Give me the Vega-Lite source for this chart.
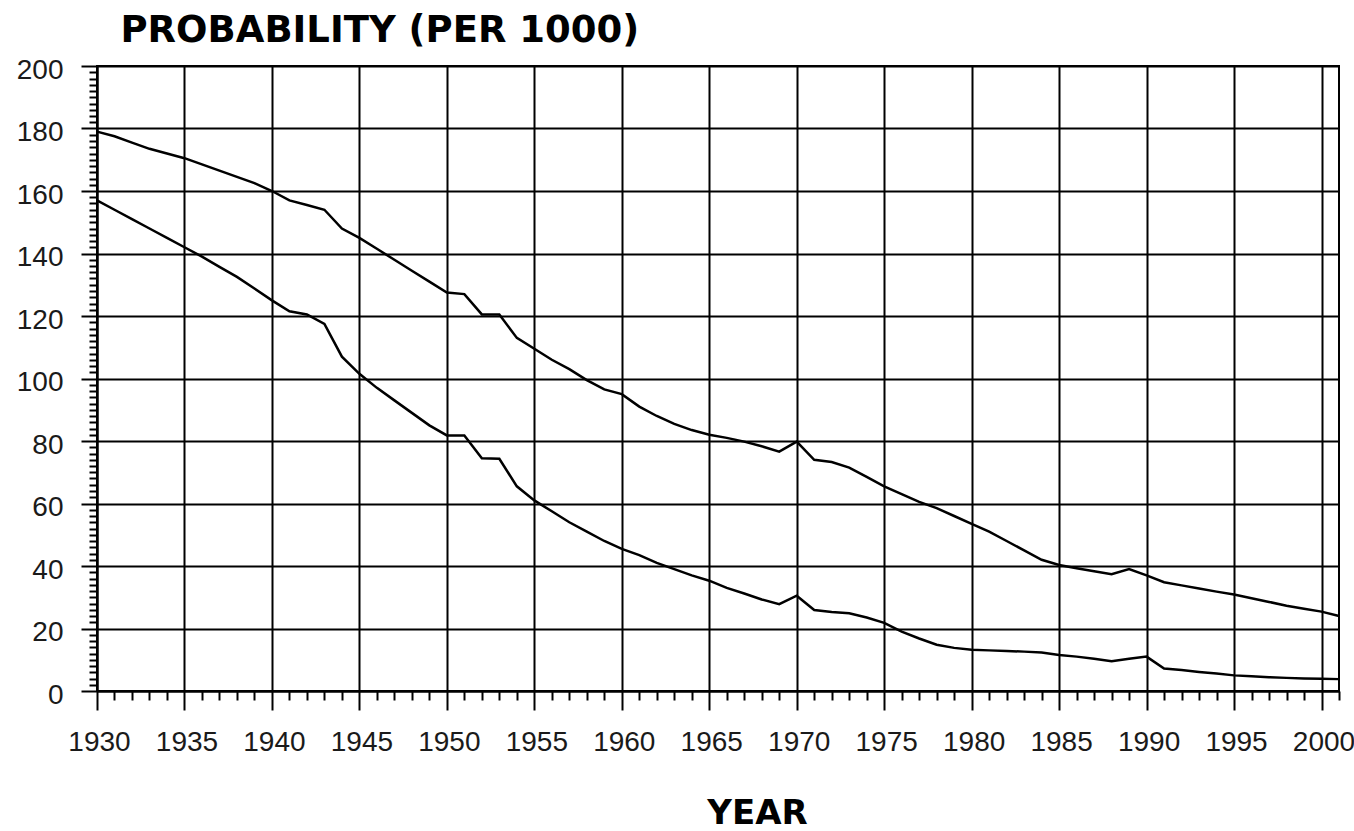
{
  "$schema": "https://vega.github.io/schema/vega-lite/v6.json",
  "width": 1242,
  "height": 625,
  "autosize": "none",
  "padding": {"left": 97, "top": 66, "right": 15, "bottom": 140},
  "background": "white",
  "config": {"view": {"stroke": "black", "strokeWidth": 2}},
  "data": {"values": [
    {"year":1930,"series":"A","value":179},{"year":1931,"series":"A","value":177.5},{"year":1932,"series":"A","value":175.5},{"year":1933,"series":"A","value":173.5},{"year":1934,"series":"A","value":172},{"year":1935,"series":"A","value":170.5},{"year":1936,"series":"A","value":168.5},{"year":1937,"series":"A","value":166.5},{"year":1938,"series":"A","value":164.5},{"year":1939,"series":"A","value":162.5},
    {"year":1940,"series":"A","value":160},{"year":1941,"series":"A","value":157},{"year":1942,"series":"A","value":155.5},{"year":1943,"series":"A","value":154},{"year":1944,"series":"A","value":148},{"year":1945,"series":"A","value":145},{"year":1946,"series":"A","value":141.5},{"year":1947,"series":"A","value":138},{"year":1948,"series":"A","value":134.5},{"year":1949,"series":"A","value":131},
    {"year":1950,"series":"A","value":127.5},{"year":1951,"series":"A","value":127},{"year":1952,"series":"A","value":120.5},{"year":1953,"series":"A","value":120.5},{"year":1954,"series":"A","value":113},{"year":1955,"series":"A","value":109.5},{"year":1956,"series":"A","value":106},{"year":1957,"series":"A","value":103},{"year":1958,"series":"A","value":99.5},{"year":1959,"series":"A","value":96.5},
    {"year":1960,"series":"A","value":95},{"year":1961,"series":"A","value":91},{"year":1962,"series":"A","value":88},{"year":1963,"series":"A","value":85.5},{"year":1964,"series":"A","value":83.5},{"year":1965,"series":"A","value":82},{"year":1966,"series":"A","value":81},{"year":1967,"series":"A","value":79.8},{"year":1968,"series":"A","value":78.3},{"year":1969,"series":"A","value":76.6},
    {"year":1970,"series":"A","value":79.8},{"year":1971,"series":"A","value":74},{"year":1972,"series":"A","value":73.3},{"year":1973,"series":"A","value":71.5},{"year":1974,"series":"A","value":68.5},{"year":1975,"series":"A","value":65.5},{"year":1976,"series":"A","value":63},{"year":1977,"series":"A","value":60.5},{"year":1978,"series":"A","value":58.5},{"year":1979,"series":"A","value":56},
    {"year":1980,"series":"A","value":53.5},{"year":1981,"series":"A","value":51},{"year":1982,"series":"A","value":48},{"year":1983,"series":"A","value":45},{"year":1984,"series":"A","value":42},{"year":1985,"series":"A","value":40.3},{"year":1986,"series":"A","value":39.3},{"year":1987,"series":"A","value":38.3},{"year":1988,"series":"A","value":37.4},{"year":1989,"series":"A","value":39},
    {"year":1990,"series":"A","value":37},{"year":1991,"series":"A","value":34.8},{"year":1992,"series":"A","value":33.8},{"year":1993,"series":"A","value":32.8},{"year":1994,"series":"A","value":31.8},{"year":1995,"series":"A","value":30.9},{"year":1996,"series":"A","value":29.7},{"year":1997,"series":"A","value":28.5},{"year":1998,"series":"A","value":27.3},{"year":1999,"series":"A","value":26.3},
    {"year":2000,"series":"A","value":25.4},{"year":2001,"series":"A","value":24},
    {"year":1930,"series":"B","value":157},{"year":1931,"series":"B","value":154},{"year":1932,"series":"B","value":151},{"year":1933,"series":"B","value":148},{"year":1934,"series":"B","value":145},{"year":1935,"series":"B","value":142},{"year":1936,"series":"B","value":139},{"year":1937,"series":"B","value":135.7},{"year":1938,"series":"B","value":132.5},{"year":1939,"series":"B","value":128.8},
    {"year":1940,"series":"B","value":125},{"year":1941,"series":"B","value":121.5},{"year":1942,"series":"B","value":120.5},{"year":1943,"series":"B","value":117.5},{"year":1944,"series":"B","value":107},{"year":1945,"series":"B","value":101.5},{"year":1946,"series":"B","value":97},{"year":1947,"series":"B","value":93},{"year":1948,"series":"B","value":89},{"year":1949,"series":"B","value":85},
    {"year":1950,"series":"B","value":81.8},{"year":1951,"series":"B","value":81.8},{"year":1952,"series":"B","value":74.5},{"year":1953,"series":"B","value":74.3},{"year":1954,"series":"B","value":65.5},{"year":1955,"series":"B","value":61},{"year":1956,"series":"B","value":57.5},{"year":1957,"series":"B","value":54},{"year":1958,"series":"B","value":51},{"year":1959,"series":"B","value":48},
    {"year":1960,"series":"B","value":45.5},{"year":1961,"series":"B","value":43.5},{"year":1962,"series":"B","value":41},{"year":1963,"series":"B","value":39},{"year":1964,"series":"B","value":37},{"year":1965,"series":"B","value":35.3},{"year":1966,"series":"B","value":33},{"year":1967,"series":"B","value":31.2},{"year":1968,"series":"B","value":29.3},{"year":1969,"series":"B","value":27.8},
    {"year":1970,"series":"B","value":30.5},{"year":1971,"series":"B","value":25.9},{"year":1972,"series":"B","value":25.3},{"year":1973,"series":"B","value":24.9},{"year":1974,"series":"B","value":23.5},{"year":1975,"series":"B","value":21.8},{"year":1976,"series":"B","value":19},{"year":1977,"series":"B","value":16.8},{"year":1978,"series":"B","value":14.8},{"year":1979,"series":"B","value":13.8},
    {"year":1980,"series":"B","value":13.2},{"year":1981,"series":"B","value":13},{"year":1982,"series":"B","value":12.8},{"year":1983,"series":"B","value":12.6},{"year":1984,"series":"B","value":12.3},{"year":1985,"series":"B","value":11.5},{"year":1986,"series":"B","value":11},{"year":1987,"series":"B","value":10.3},{"year":1988,"series":"B","value":9.5},{"year":1989,"series":"B","value":10.3},
    {"year":1990,"series":"B","value":11},{"year":1991,"series":"B","value":7.2},{"year":1992,"series":"B","value":6.7},{"year":1993,"series":"B","value":6.1},{"year":1994,"series":"B","value":5.6},{"year":1995,"series":"B","value":5},{"year":1996,"series":"B","value":4.7},{"year":1997,"series":"B","value":4.4},{"year":1998,"series":"B","value":4.2},{"year":1999,"series":"B","value":4},
    {"year":2000,"series":"B","value":3.9},{"year":2001,"series":"B","value":3.8}
  ]},
  "layer": [
    {
      "mark": {"type": "line", "color": "black", "strokeOpacity": 0},
      "encoding": {
        "x": {"field": "year", "type": "quantitative",
          "scale": {"domain": [1930, 2001], "nice": false, "zero": false},
          "axis": {"orient": "bottom", "values": [1931,1932,1933,1934,1936,1937,1938,1939,1941,1942,1943,1944,1946,1947,1948,1949,1951,1952,1953,1954,1956,1957,1958,1959,1961,1962,1963,1964,1966,1967,1968,1969,1971,1972,1973,1974,1976,1977,1978,1979,1981,1982,1983,1984,1986,1987,1988,1989,1991,1992,1993,1994,1996,1997,1998,1999,2001],
            "labels": false, "domain": false, "grid": false, "title": null,
            "ticks": true, "tickSize": 9, "tickWidth": 2, "tickColor": "black"}},
        "y": {"field": "value", "type": "quantitative",
          "scale": {"domain": [0, 200], "nice": false},
          "axis": {"orient": "left", "values": [2,4,6,8,10,12,14,16,18,22,24,26,28,30,32,34,36,38,42,44,46,48,50,52,54,56,58,62,64,66,68,70,72,74,76,78,82,84,86,88,90,92,94,96,98,102,104,106,108,110,112,114,116,118,122,124,126,128,130,132,134,136,138,142,144,146,148,150,152,154,156,158,162,164,166,168,170,172,174,176,178,182,184,186,188,190,192,194,196,198],
            "labels": false, "domain": false, "grid": false, "title": null,
            "ticks": true, "tickSize": 8, "tickWidth": 2, "tickColor": "black"}},
        "detail": {"field": "series"}
      }
    },
    {
      "mark": {"type": "line", "color": "black", "strokeWidth": 2.5},
      "encoding": {
        "x": {"field": "year", "type": "quantitative",
          "scale": {"domain": [1930, 2001], "nice": false, "zero": false},
          "axis": {"orient": "bottom", "values": [1930,1935,1940,1945,1950,1955,1960,1965,1970,1975,1980,1985,1990,1995,2000],
            "format": "d", "labelFlush": false, "labelOverlap": false, "labelBound": false,
            "labelFont": "Liberation Sans", "labelFontSize": 28, "labelColor": "#1a1a1a",
            "labelBaseline": "alphabetic", "labelPadding": 40, "labelOffset": 2,
            "domain": true, "domainColor": "black", "domainWidth": 2,
            "ticks": true, "tickSize": 19, "tickWidth": 2, "tickColor": "black",
            "grid": true, "gridColor": "black", "gridWidth": 2, "gridOpacity": 1,
            "title": "YEAR", "titleFont": "DejaVu Sans", "titleFontSize": 34, "titleFontWeight": "bold", "titleColor": "black",
            "titleX": 660, "titleY": 139, "titleAlign": "center", "titleBaseline": "bottom"}},
        "y": {"field": "value", "type": "quantitative",
          "scale": {"domain": [0, 200], "nice": false},
          "axis": {"orient": "left", "values": [0,20,40,60,80,100,120,140,160,180,200],
            "labelFlush": false, "labelOverlap": false, "labelBound": false,
            "labelFont": "Liberation Sans", "labelFontSize": 28, "labelColor": "#1a1a1a",
            "labelPadding": 18, "labelOffset": 4,
            "domain": true, "domainColor": "black", "domainWidth": 2,
            "ticks": true, "tickSize": 16, "tickWidth": 2, "tickColor": "black",
            "grid": true, "gridColor": "black", "gridWidth": 2, "gridOpacity": 1,
            "title": "PROBABILITY (PER  1000)", "titleFont": "DejaVu Sans", "titleFontSize": 37, "titleFontWeight": "bold", "titleColor": "black",
            "titleAngle": 0, "titleX": 23, "titleY": -25, "titleAlign": "left", "titleBaseline": "alphabetic"}},
        "detail": {"field": "series"}
      }
    }
  ],
  "resolve": {"axis": {"x": "independent", "y": "independent"}}
}
